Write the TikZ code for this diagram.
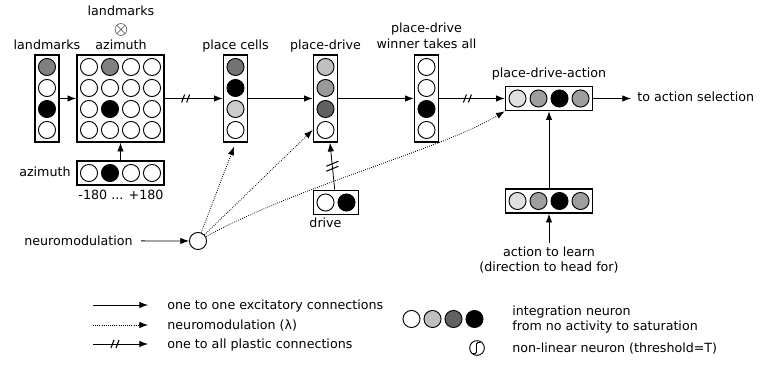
\documentclass[tikz,border=0pt]{standalone}
\usepackage{fontspec}
\setmainfont{DejaVu Sans}
\usetikzlibrary{arrows.meta,fit}

\tikzset{
  neuron/.style={circle, draw, line width=0.7pt, fill=#1, minimum size=12.8pt, inner sep=0pt},
  neuron/.default=white,
  layer/.style={draw, line width=1.1pt, inner sep=2.3pt},
  conn/.style={-{Latex[length=6.5pt,width=4.8pt]}, line width=0.6pt},
  modul/.style={conn, densely dotted},
  hcut/.pic={\draw[-, solid, line width=0.8pt] (-4,4) -- (-1,-4) (1,4) -- (4,-4);},
  vcut/.pic={\draw[-, solid, line width=0.8pt] (-6,0) -- (6,-5) (-6,5) -- (6,0);},
  lbl/.style={anchor=base, inner sep=0pt},
}

\begin{document}
\begin{tikzpicture}[x=0.75pt,y=-0.75pt,line width=0.6pt,font=\fontsize{9.5}{11}\selectfont]
  \useasboundingbox (0,0) rectangle (766,366);
  % landmarks input
  \foreach \c [count=\i] in {black!50,white,black,white}
    \node[neuron=\c] (lm\i) at (47,46+21*\i) {};
  \node[layer, fit=(lm1)(lm4)] (lm) {};
  \node[lbl] (lmtext) at (47,50) {landmarks};
  % landmarks x azimuth
  \foreach \row [count=\i] in {{white,black!50,white,white},{white,white,white,white},
                               {white,black,white,white},{white,white,white,white}}
    \foreach \c [count=\j] in \row
      \node[neuron=\c] (g\i\j) at (68+21*\j,46+21*\i) {};
  \node[layer, fit=(g11)(g44)] (grid) {};
  \node[lbl] (gridtop) at (121,16) {landmarks};
  \node[inner sep=0pt, scale=1.5] (times) at (121,30.5) {$\otimes$};
  \node[lbl] (gridbot) at (121,50) {azimuth};
  % azimuth input
  \foreach \c [count=\j] in {white,black,white,white}
    \node[neuron=\c] (az\j) at (68+21*\j,173) {};
  \node[layer, fit=(az1)(az4)] (az) {};
  \node[lbl, anchor=base east] (aztext) at (71,177) {azimuth};
  \node[lbl] (azrange) at (121,200) {-180 ... +180};
  % place cells
  \foreach \c [count=\i] in {black!55,black,black!20,white}
    \node[neuron=\c] (pc\i) at (235.5,46+21*\i) {};
  \node[layer, fit=(pc1)(pc4)] (pc) {};
  \node[lbl] (pctext) at (235.5,50) {place cells};
  % place-drive
  \foreach \c [count=\i] in {black!25,black!40,black!62,white}
    \node[neuron=\c] (pd\i) at (325.5,46+21*\i) {};
  \node[layer, fit=(pd1)(pd4)] (pd) {};
  \node[lbl] (pdtext) at (325.5,50) {place-drive};
  % drive
  \foreach \c [count=\j] in {white,black}
    \node[neuron=\c] (dr\j) at (304.5+21*\j,202.5) {};
  \node[layer, fit=(dr1)(dr2)] (drive) {};
  \node[lbl] (drtext) at (325.5,228) {drive};
  % place-drive winner takes all
  \foreach \c [count=\i] in {white,white,black,white}
    \node[neuron=\c] (wta\i) at (426.5,46+21*\i) {};
  \node[layer, fit=(wta1)(wta4)] (wta) {};
  \node[lbl] (wtatop) at (426.5,33) {place-drive};
  \node[lbl] (wtabot) at (426.5,48.5) {winner takes all};
  % place-drive-action
  \foreach \c [count=\j] in {black!12,black!38,black,black!38}
    \node[neuron=\c] (pda\j) at (496.5+21*\j,98.5) {};
  \node[layer, fit=(pda1)(pda4)] (pda) {};
  \node[lbl] (pdatext) at (549,77.5) {place-drive-action};
  \coordinate (out) at (631,98.5);
  \node[lbl, anchor=base west] (outtext) at (637,102) {to action selection};
  % action to learn
  \foreach \c [count=\j] in {black!12,black!38,black,black!38}
    \node[neuron=\c] (act\j) at (496.5+21*\j,201) {};
  \node[layer, fit=(act1)(act4)] (act) {};
  \coordinate (learn) at (549,243);
  \node[lbl] (acttop) at (549,257) {action to learn};
  \node[lbl] (actbot) at (549,272) {(direction to head for)};
  % neuromodulation
  \node[lbl, anchor=base east] (nmtext) at (133,245.5) {neuromodulation};
  \node[neuron] (nm) at (198,241) {};

  % connections
  \draw[conn] (lm) -- (grid);
  \draw[conn] (az) -- (grid);
  \draw[conn] (grid) -- pic[pos=0.36]{hcut} (pc);
  \draw[conn] (pc) -- (pd);
  \draw[conn] (pd) -- (wta);
  \draw[conn] (drive) -- pic[pos=0.5]{vcut} (pd);
  \draw[conn] (wta) -- pic[pos=0.43]{hcut} (pda);
  \draw[conn] (pda) -- (out);
  \draw[conn] (act) -- (pda);
  \draw[conn] (learn) -- (act);
  \draw[conn, shorten <=6pt] (nmtext) -- (nm);
  \draw[modul, shorten >=3pt] (nm) -- (pc.south);
  \draw[modul] (nm) -- (pd4.west -| pd.west);
  \draw[modul] (nm) .. controls (300,185) and (440,150) .. (pda.south west);

  % legend
  \coordinate (k1a) at (93,305);  \coordinate (k1b) at (148,305);
  \coordinate (k2a) at (93,325);  \coordinate (k2b) at (148,325);
  \coordinate (k3a) at (93,344);  \coordinate (k3b) at (148,344);
  \draw[conn] (k1a) -- (k1b);
  \draw[modul] (k2a) -- (k2b);
  \draw[conn] (k3a) -- pic[pos=0.4]{hcut} (k3b);
  \node[lbl, anchor=base west] (k1text) at (167,309) {one to one excitatory connections};
  \node[lbl, anchor=base west] (k2text) at (167,329) {neuromodulation (λ)};
  \node[lbl, anchor=base west] (k3text) at (167,348) {one to all plastic connections};
  \foreach \c [count=\j] in {white,black!25,black!62,black}
    \node[neuron=\c] (key\j) at (390.5+21*\j,319) {};
  \node[lbl, anchor=base west] (keytop) at (512,315) {integration neuron};
  \node[lbl, anchor=base west] (keybot) at (512,330) {from no activity to saturation};
  \node[circle, draw, line width=0.7pt, minimum size=11pt, inner sep=0pt] (thr) at (477,348) {};
  \draw[line width=0.7pt, rounded corners=1pt] ([shift={(-4.5,5.5)}]thr.center) -- ++(4,0) -- ++(0,-11) -- ++(4,0);
  \node[lbl, anchor=base west] (thrtext) at (512,352) {non-linear neuron (threshold=T)};
\end{tikzpicture}
\end{document}
